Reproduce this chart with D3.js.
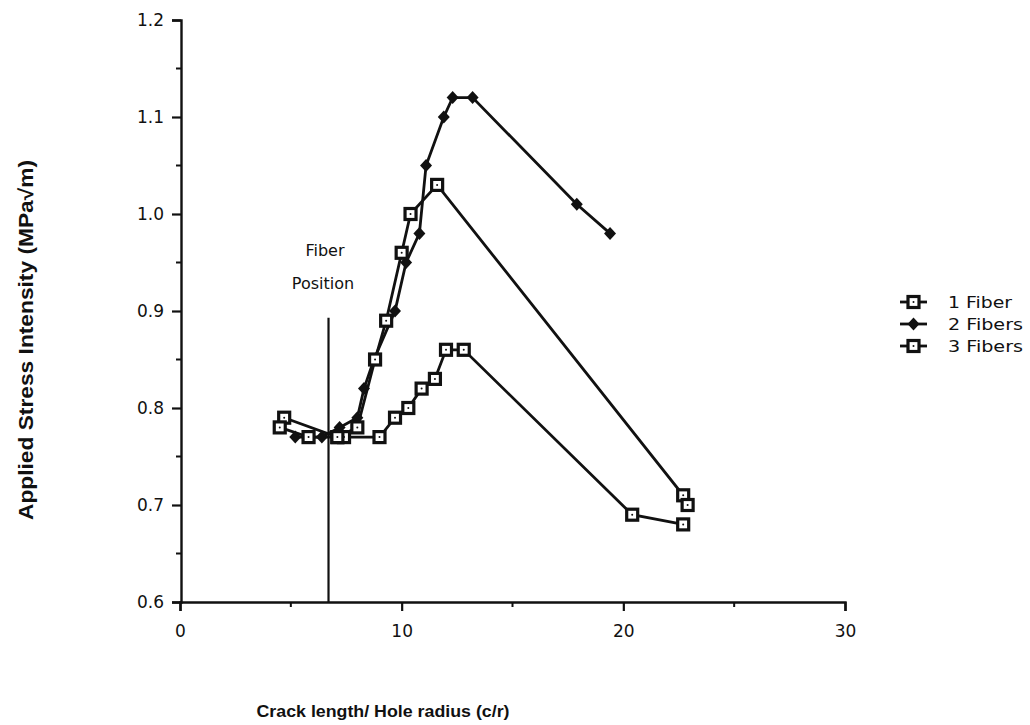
<!DOCTYPE html>
<html><head><meta charset="utf-8">
<script src="https://cdn.jsdelivr.net/npm/d3@7"></script>
<style>body{margin:0;background:#fff}svg{display:block}text{font-family:"DejaVu Sans",Arial,sans-serif;fill:#111}</style>
</head><body><svg id="c" width="1030" height="725"></svg>
<script>
const seriesNames = ["1 Fiber", "2 Fibers", "3 Fibers"];
const fiber1 = [[4.7,0.79],[7.1,0.77],[7.4,0.77],[9.0,0.77],[9.7,0.79],[10.3,0.80],[10.9,0.82],[11.5,0.83],[12.0,0.86],[12.8,0.86],[20.4,0.69],[22.7,0.68]];
const fiber2 = [[5.2,0.77],[5.8,0.77],[6.4,0.77],[7.2,0.78],[8.0,0.79],[8.3,0.82],[8.75,0.85],[9.7,0.90],[10.2,0.95],[10.8,0.98],[11.1,1.05],[11.9,1.10],[12.3,1.12],[13.2,1.12],[17.9,1.01],[19.4,0.98]];
const fiber3 = [[4.5,0.78],[5.8,0.77],[7.1,0.77],[8.0,0.78],[8.8,0.85],[9.3,0.89],[10.0,0.96],[10.4,1.00],[11.6,1.03],[22.7,0.71],[22.9,0.70]];
const xTicks = [0,10,20,30];
const yTicks = [0.6,0.7,0.8,0.9,1.0,1.1,1.2];
const fiberPos = 6.7, fiberTop = 0.893;

const svg = d3.select("#c");
const x = d3.scaleLinear().domain([0,30]).range([180,845]);
const y = d3.scaleLinear().domain([0.6,1.2]).range([602,20]);
const ink = "#111";

// axes
const yAxis = d3.axisLeft(y).tickValues(yTicks).tickFormat(d3.format(".1f")).tickSize(9).tickPadding(8);
const gy = svg.append("g").attr("transform","translate(181,0)").call(yAxis);
const xAxis = d3.axisBottom(x).tickValues(xTicks).tickFormat(d3.format("d")).tickSize(9).tickPadding(14);
const gx = svg.append("g").attr("transform","translate(0,602)").call(xAxis);
[gx,gy].forEach(g=>{
  g.select(".domain").attr("stroke",ink).attr("stroke-width",2.4);
  g.selectAll(".tick line").attr("stroke",ink).attr("stroke-width",2.2);
  g.selectAll(".tick text").attr("font-size",17).attr("fill",ink).style("font-family","'DejaVu Sans',Arial,sans-serif");
});
// minor ticks
svg.append("g").selectAll("line").data(d3.range(0.65,1.2,0.1)).join("line")
  .attr("x1",176).attr("x2",181).attr("y1",d=>y(d)).attr("y2",d=>y(d)).attr("stroke",ink).attr("stroke-width",2);
svg.append("g").selectAll("line").data([5,15,25]).join("line")
  .attr("x1",d=>x(d)).attr("x2",d=>x(d)).attr("y1",602).attr("y2",607).attr("stroke",ink).attr("stroke-width",2);

// fiber position
svg.append("line").attr("x1",x(fiberPos)).attr("x2",x(fiberPos)).attr("y1",y(0.6)).attr("y2",y(fiberTop)).attr("stroke",ink).attr("stroke-width",2.2);
svg.append("text").attr("x",325).attr("y",256).attr("text-anchor","middle").attr("font-size",16).text("Fiber");
svg.append("text").attr("x",323).attr("y",289).attr("text-anchor","middle").attr("font-size",16).text("Position");

const line = d3.line().x(d=>x(d[0])).y(d=>y(d[1]));
const data = [fiber1, fiber2, fiber3];
const kinds = ["sq","dm","sq"];
data.forEach((s,i)=>{
  svg.append("path").datum(s).attr("d",line).attr("fill","none").attr("stroke",ink).attr("stroke-width",2.8);
});
function marker(g, kind, cx, cy){
  if(kind==="sq"){
    g.append("rect").attr("x",cx-5.5).attr("y",cy-5.5).attr("width",11).attr("height",11).attr("fill","#fff").attr("stroke",ink).attr("stroke-width",3.2);
    g.append("circle").attr("cx",cx).attr("cy",cy).attr("r",1).attr("fill",ink);
  } else {
    g.append("path").attr("d",`M${cx},${cy-6.5}L${cx+6},${cy}L${cx},${cy+6.5}L${cx-6},${cy}Z`).attr("fill",ink);
  }
}
data.forEach((s,i)=>{
  const g = svg.append("g");
  s.forEach(d=>marker(g,kinds[i],x(d[0]),y(d[1])));
});

// legend
const legY = [302,324,346];
const legLen = [64,75,75];
seriesNames.forEach((n,i)=>{
  const g = svg.append("g");
  g.append("line").attr("x1",900).attr("x2",927).attr("y1",legY[i]).attr("y2",legY[i]).attr("stroke",ink).attr("stroke-width",2.8);
  marker(g,kinds[i],913.5,legY[i]);
  g.append("text").attr("x",948).attr("y",legY[i]+6).attr("font-size",16)
    .attr("textLength",legLen[i]).attr("lengthAdjust","spacingAndGlyphs").text(n);
});

// axis titles
svg.append("text").attr("x",383).attr("y",717).attr("text-anchor","middle").attr("font-size",16).attr("font-weight","bold")
  .style("font-family","'Liberation Sans',Arial,sans-serif").attr("textLength",253).attr("lengthAdjust","spacingAndGlyphs").text("Crack length/ Hole radius (c/r)");
svg.append("text").attr("transform","translate(33,340) rotate(-90)").attr("text-anchor","middle").attr("font-size",20).attr("font-weight","bold")
  .style("font-family","'Liberation Sans',Arial,sans-serif").attr("textLength",360).attr("lengthAdjust","spacingAndGlyphs").text("Applied Stress Intensity (MPa\u221Am)");
</script></body></html>
